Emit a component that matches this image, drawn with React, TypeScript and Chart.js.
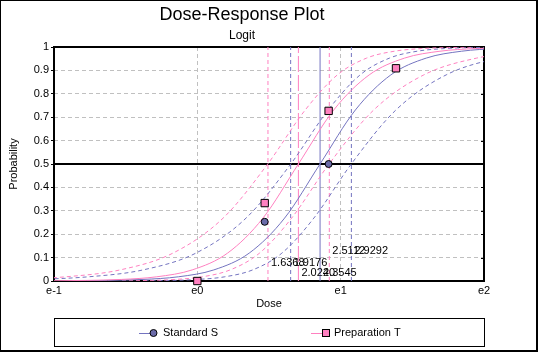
import React, { useEffect, useRef } from 'react';
import { Chart, registerables } from 'chart.js';

Chart.register(...registerables);

const FONT = '"Liberation Sans", Arial, sans-serif';

// Axis tick labels (x axis is natural-log dose)
const X_TICK_LABELS = ['e-1', 'e0', 'e1', 'e2'];
const Y_TICK_LABELS = ['0', '0.1', '0.2', '0.3', '0.4', '0.5', '0.6', '0.7', '0.8', '0.9', '1'];

// Observed responses (log dose, proportion responding)
const STD_LOGDOSE = [0.47, 0.916];
const STD_PROB = [0.253, 0.5];
const PREP_LOGDOSE = [0, 0.47, 0.916, 1.386];
const PREP_PROB = [0, 0.333, 0.727, 0.909];

// Fitted curves and confidence bands:
// probability levels shared by every curve, and each curve's log dose at those levels
const CURVE_PROB = [0.0009, 0.0025, 0.0067, 0.018, 0.0474, 0.1192, 0.2689, 0.5, 0.7311, 0.8808, 0.9526, 0.982, 0.9933, 0.9975, 0.9991];
const PREP_FIT_LX = [-1.023, -0.776, -0.53, -0.283, -0.036, 0.211, 0.458, 0.705, 0.952, 1.199, 1.446, 1.693, 1.94, 2.186, 2.433];
const PREP_UPPER_LX = [-2.072, -1.685, -1.301, -0.917, -0.539, -0.17, 0.18, 0.491, 0.753, 0.977, 1.181, 1.375, 1.565, 1.751, 1.936];
const PREP_LOWER_LX = [-0.526, -0.341, -0.155, 0.035, 0.229, 0.434, 0.658, 0.919, 1.231, 1.58, 1.949, 2.327, 2.711, 3.095, 3.482];
const STD_FIT_LX = [-0.872, -0.625, -0.379, -0.132, 0.115, 0.362, 0.609, 0.856, 1.103, 1.35, 1.597, 1.844, 2.091, 2.337, 2.584];
const STD_UPPER_LX = [-1.914, -1.526, -1.142, -0.758, -0.379, -0.01, 0.34, 0.652, 0.913, 1.136, 1.341, 1.534, 1.724, 1.91, 2.094];
const STD_LOWER_LX = [-0.368, -0.184, 0.002, 0.192, 0.386, 0.59, 0.813, 1.074, 1.386, 1.736, 2.106, 2.484, 2.868, 3.252, 3.64];

// ED50 estimates and confidence limits (dose)
const ED_VALUES = [1.6368, 1.9176, 2.024, 2.3545, 2.5112, 2.9292];
const ED_LABELS = ['1.6368', '1.9176', '2.0240', '2.3545', '2.5112', '2.9292'];
const ED_SERIES = ['T', 'S', 'T', 'S', 'T', 'S'];
const ED_KIND = ['ci', 'ci', 'est', 'est', 'ci', 'ci'];
const ED_LABEL_LEVEL = [0.076, 0.076, 0.034, 0.034, 0.13, 0.13];

const SERIES_NAMES = ['Standard S', 'Preparation T'];

const PINK = '#ff80c0';
const BLUE = '#7474c0';
const BLUE_FILL = '#6a6aa8';
const GRID = '#c0c0c0';

const toPoints = (xs: number[], ys: number[]) => xs.map((x, i) => ({ x, y: ys[i] }));

const curve = (xs: number[], color: string, dash: number[]) => ({
  data: toPoints(xs, CURVE_PROB),
  showLine: true,
  borderColor: color,
  borderWidth: 1,
  borderDash: dash,
  pointRadius: 0,
  cubicInterpolationMode: 'monotone',
  fill: false,
});

const decor = {
  id: 'decor',
  beforeDatasetsDraw(chart: any) {
    const { ctx, chartArea: a, scales } = chart;
    ctx.save();
    ctx.strokeStyle = '#000';
    ctx.lineWidth = 2;
    ctx.strokeRect(a.left, a.top, a.right - a.left, a.bottom - a.top);
    // inward tick marks on the right edge
    ctx.lineWidth = 1;
    scales.y.ticks.forEach((t: any) => {
      const y = Math.round(scales.y.getPixelForValue(t.value)) + 0.5;
      ctx.beginPath();
      ctx.moveTo(a.right - 3, y);
      ctx.lineTo(a.right, y);
      ctx.stroke();
    });
    ctx.restore();
  },
  afterDatasetsDraw(chart: any) {
    const { ctx, scales } = chart;
    ctx.save();
    ctx.font = `11px ${FONT}`;
    ctx.fillStyle = '#000';
    ctx.textAlign = 'left';
    ctx.textBaseline = 'middle';
    ED_VALUES.forEach((v, i) => {
      const x = scales.x.getPixelForValue(Math.log(v)) + 3;
      const y = scales.y.getPixelForValue(ED_LABEL_LEVEL[i]);
      ctx.fillText(ED_LABELS[i], x, y);
    });
    ctx.restore();
  },
  afterDraw(chart: any) {
    const { ctx } = chart;
    ctx.save();
    // legend box
    ctx.strokeStyle = '#000';
    ctx.lineWidth = 1;
    ctx.strokeRect(54.5, 318.5, 430, 28);
    const cy = 333;
    ctx.font = `11px ${FONT}`;
    ctx.textBaseline = 'middle';
    ctx.textAlign = 'left';
    // Standard S
    ctx.strokeStyle = BLUE;
    ctx.beginPath();
    ctx.moveTo(139, cy + 0.5);
    ctx.lineTo(153, cy + 0.5);
    ctx.stroke();
    ctx.beginPath();
    ctx.arc(153.5, cy, 3.5, 0, Math.PI * 2);
    ctx.fillStyle = BLUE_FILL;
    ctx.fill();
    ctx.strokeStyle = '#000';
    ctx.stroke();
    ctx.fillStyle = '#000';
    ctx.fillText(SERIES_NAMES[0], 163, cy);
    // Preparation T
    ctx.strokeStyle = PINK;
    ctx.beginPath();
    ctx.moveTo(311, cy + 0.5);
    ctx.lineTo(326, cy + 0.5);
    ctx.stroke();
    ctx.fillStyle = PINK;
    ctx.fillRect(322.5, cy - 3.5, 7, 7);
    ctx.strokeStyle = '#000';
    ctx.strokeRect(322.5, cy - 3.5, 7, 7);
    ctx.fillStyle = '#000';
    ctx.fillText(SERIES_NAMES[1], 334, cy);
    // outer frame
    ctx.fillStyle = '#000';
    ctx.fillRect(0, 0, 538, 1);
    ctx.fillRect(0, 0, 1, 352);
    ctx.fillRect(536, 0, 2, 352);
    ctx.fillRect(0, 350, 538, 2);
    ctx.restore();
  },
};

export default function App() {
  const ref = useRef<HTMLCanvasElement>(null);

  useEffect(() => {
    document.body.style.margin = '0';
    const canvas = ref.current;
    if (!canvas) return;

    const edLines = ED_VALUES.map((v, i) => {
      const color = ED_SERIES[i] === 'T' ? PINK : BLUE;
      const dash = ED_KIND[i] === 'ci' ? [4, 3] : ED_SERIES[i] === 'T' ? [16, 3] : [];
      const lx = Math.log(v);
      return {
        data: [{ x: lx, y: 0 }, { x: lx, y: 1 }],
        showLine: true,
        borderColor: color,
        borderWidth: 1,
        borderDash: dash,
        pointRadius: 0,
        tension: 0,
      };
    });

    const chart = new Chart(canvas, {
      type: 'scatter',
      data: {
        datasets: [
          {
            label: SERIES_NAMES[1],
            data: toPoints(PREP_LOGDOSE, PREP_PROB),
            pointStyle: 'rect',
            pointRadius: 5.2,
            backgroundColor: PINK,
            borderColor: '#000',
            borderWidth: 1,
            clip: false,
          },
          {
            label: SERIES_NAMES[0],
            data: toPoints(STD_LOGDOSE, STD_PROB),
            pointStyle: 'circle',
            pointRadius: 3.5,
            backgroundColor: BLUE_FILL,
            borderColor: '#000',
            borderWidth: 1,
            clip: false,
          },
          curve(PREP_FIT_LX, PINK, []),
          curve(STD_FIT_LX, BLUE, []),
          curve(PREP_UPPER_LX, PINK, [4, 3]),
          curve(PREP_LOWER_LX, PINK, [4, 3]),
          curve(STD_UPPER_LX, BLUE, [4, 3]),
          curve(STD_LOWER_LX, BLUE, [4, 3]),
          ...edLines,
          {
            data: [{ x: -1, y: 0.5 }, { x: 2, y: 0.5 }],
            showLine: true,
            borderColor: '#000',
            borderWidth: 2,
            pointRadius: 0,
          },
        ] as any,
      },
      plugins: [decor],
      options: {
        animation: false,
        responsive: false,
        maintainAspectRatio: false,
        events: [],
        layout: { padding: { left: 0, right: 54, top: 0, bottom: 38 } },
        font: { family: FONT },
        plugins: {
          legend: { display: false },
          tooltip: { enabled: false },
          title: {
            display: true,
            text: 'Dose-Response Plot',
            color: '#000',
            font: { family: FONT, size: 18, weight: 'normal' },
            padding: { top: 4.2, bottom: 0 },
          },
          subtitle: {
            display: true,
            text: 'Logit',
            color: '#000',
            font: { family: FONT, size: 12, weight: 'normal' },
            padding: { top: 2.3, bottom: 4.5 },
          },
        },
        scales: {
          x: {
            type: 'linear',
            min: -1,
            max: 2,
            afterFit: (s: any) => { s.height = 33; },
            ticks: {
              stepSize: 1,
              color: '#000',
              font: { family: FONT, size: 11 },
              padding: 3.6,
              callback: (_v: any, i: number) => X_TICK_LABELS[i],
              maxRotation: 0,
            },
            grid: {
              drawTicks: false,
              lineWidth: 1,
              color: (c: any) => (c.tick && (c.tick.value === 0 || c.tick.value === 1) ? GRID : 'transparent'),
            },
            border: { display: false, dash: [4, 3] },
            title: {
              display: true,
              text: 'Dose',
              color: '#000',
              font: { family: FONT, size: 11 },
              padding: { top: 0, bottom: 3.2 },
            },
          },
          y: {
            type: 'linear',
            min: 0,
            max: 1,
            afterFit: (s: any) => { s.width = 54; },
            ticks: {
              stepSize: 0.1,
              color: '#000',
              font: { family: FONT, size: 11 },
              padding: 2,
              callback: (_v: any, i: number) => Y_TICK_LABELS[i],
            },
            grid: {
              drawTicks: true,
              tickLength: 3,
              tickColor: '#000',
              tickBorderDash: [],
              lineWidth: 1,
              color: (c: any) => {
                const v = c.tick ? c.tick.value : 0;
                if (Math.abs(v) < 1e-6 || Math.abs(v - 1) < 1e-6 || Math.abs(v - 0.5) < 1e-6) return 'transparent';
                return GRID;
              },
            },
            border: { display: false, dash: [4, 3] },
            title: {
              display: true,
              text: 'Probability',
              color: '#000',
              font: { family: FONT, size: 11 },
              padding: { top: 7.4, bottom: 0 },
            },
          },
        },
      } as any,
    });

    return () => chart.destroy();
  }, []);

  return (
    <canvas
      ref={ref}
      width={538}
      height={352}
      style={{ display: 'block', width: 538, height: 352, background: '#fff' }}
    />
  );
}
